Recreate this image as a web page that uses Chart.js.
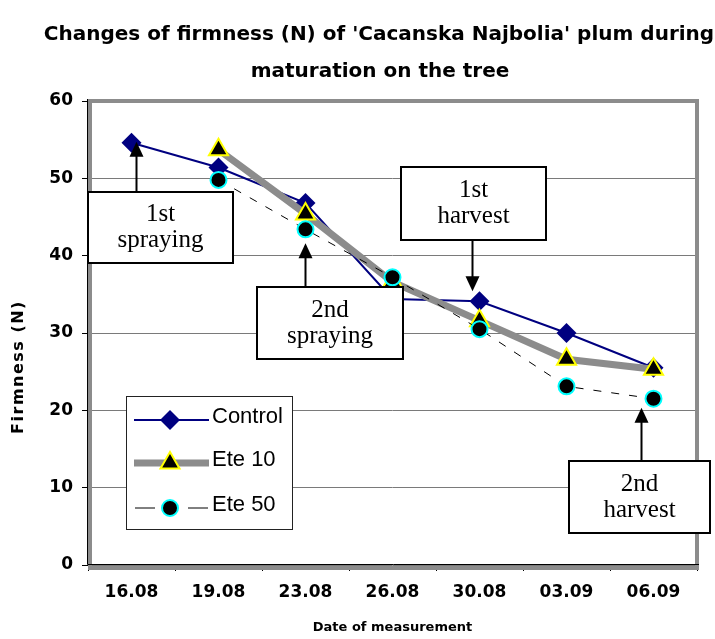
<!DOCTYPE html>
<html>
<head>
<meta charset="utf-8">
<script src="https://cdn.jsdelivr.net/npm/chart.js@4.4.1/dist/chart.umd.min.js"></script>
<style>
  html, body { margin: 0; padding: 0; background: #fff; }
  #wrap { position: relative; width: 715px; height: 639px; }
</style>
</head>
<body>
<div id="wrap"><canvas id="firmnessChart" width="715" height="639"></canvas></div>
<script>
// --- data ---
const dates = ['16.08', '19.08', '23.08', '26.08', '30.08', '03.09', '06.09'];
const control = [54.6, 51.4, 46.8, 34.4, 34.1, 30.0, 25.5];
const ete10 = [null, 53.7, 45.4, 36.6, 31.6, 26.6, 25.3];
const ete50 = [null, 49.8, 43.4, 37.2, 30.5, 23.1, 21.5];
const seriesNames = ['Control', 'Ete 10', 'Ete 50'];

const titleLines = ["Changes of firmness (N) of 'Cacanska Najbolia' plum during", 'maturation on the tree'];

// text boxes with arrows pointing at a point of a series
const notes = [
    { lines: ['1st', 'spraying'], box: [88, 192, 145, 71], series: 0, index: 0, dx: 5, gap: -1 },
    { lines: ['2nd', 'spraying'], box: [257, 287, 146, 72], series: 2, index: 2, dx: 0, gap: 14 },
    { lines: ['1st', 'harvest'], box: [401, 167, 145, 73], series: 0, index: 4, dx: -7, gap: 10 },
    { lines: ['2nd', 'harvest'], box: [569, 461, 141, 72], series: 2, index: 6, dx: -12, gap: 9 }
];

const boldFont = '"DejaVu Sans", Verdana, sans-serif';

function drawArrowHead(ctx, x, y, dir) {
    ctx.beginPath();
    ctx.moveTo(x, y);
    ctx.lineTo(x - 7, y - dir * 15);
    ctx.lineTo(x + 7, y - dir * 15);
    ctx.closePath();
    ctx.fill();
}

const decorations = {
    id: 'decorations',
    beforeDatasetsDraw(chart) {
        const { ctx, chartArea: a } = chart;
        ctx.save();
        // grey plot frame
        ctx.strokeStyle = '#8c8c8c';
        ctx.lineWidth = 4;
        ctx.strokeRect(a.left + 2, a.top, a.right - a.left - 2, a.bottom - a.top + 3);
        ctx.strokeStyle = '#000';
        ctx.lineWidth = 1;
        ctx.beginPath();
        ctx.moveTo(a.left - 0.5, a.top - 2);
        ctx.lineTo(a.left - 0.5, a.bottom - 0.5);
        ctx.lineTo(a.right + 2, a.bottom - 0.5);
        ctx.stroke();
        ctx.restore();
    },
    afterDraw(chart) {
        const { ctx, scales } = chart;
        ctx.save();

        // title
        ctx.fillStyle = '#000';
        ctx.textAlign = 'center';
        ctx.textBaseline = 'middle';
        ctx.font = 'bold 20px ' + boldFont;
        ctx.fillText(titleLines[0], 379, 35);
        ctx.fillText(titleLines[1], 380, 72);

        // y axis title
        ctx.save();
        ctx.translate(19, 367);
        ctx.rotate(-Math.PI / 2);
        ctx.font = 'bold 16px ' + boldFont;
        ctx.letterSpacing = '1.5px';
        ctx.fillText('Firmness (N)', 0, 0);
        ctx.restore();

        // annotation boxes and arrows
        notes.forEach(n => {
            const [bx, by, bw, bh] = n.box;
            const value = chart.data.datasets[n.series].data[n.index];
            const px = scales.x.getPixelForValue(n.index) + n.dx;
            const py = scales.y.getPixelForValue(value);
            const up = by > py;
            ctx.strokeStyle = '#000';
            ctx.fillStyle = '#000';
            ctx.lineWidth = 2;
            const tipY = up ? py + n.gap : py - n.gap;
            const startY = up ? by : by + bh;
            ctx.beginPath();
            ctx.moveTo(px, startY);
            ctx.lineTo(px, up ? tipY + 14 : tipY - 14);
            ctx.stroke();
            drawArrowHead(ctx, px, tipY, up ? -1 : 1);

            ctx.fillStyle = '#fff';
            ctx.fillRect(bx, by, bw, bh);
            ctx.strokeRect(bx, by, bw, bh);
            ctx.fillStyle = '#000';
            ctx.font = '25px "Liberation Serif", "Times New Roman", serif';
            ctx.textAlign = 'center';
            ctx.textBaseline = 'middle';
            ctx.fillText(n.lines[0], bx + bw / 2, by + bh / 2 - 13);
            ctx.fillText(n.lines[1], bx + bw / 2, by + bh / 2 + 13);
        });

        // legend
        const lx = 126, ly = 396, lw = 166, lh = 133;
        const rows = [420, 463, 508];
        ctx.fillStyle = '#fff';
        ctx.fillRect(lx, ly, lw, lh);
        ctx.strokeStyle = '#222';
        ctx.lineWidth = 1;
        ctx.strokeRect(lx + 0.5, ly + 0.5, lw, lh);
        chart.data.datasets.forEach((ds, i) => {
            const y = rows[i];
            ctx.strokeStyle = ds.borderColor;
            ctx.lineWidth = ds.borderWidth;
            ctx.beginPath();
            if (ds.borderDash) {
                ctx.moveTo(135, y); ctx.lineTo(155, y);
                ctx.moveTo(188, y); ctx.lineTo(208, y);
            } else {
                ctx.moveTo(134, y); ctx.lineTo(209, y);
            }
            ctx.stroke();
            ctx.fillStyle = ds.pointBackgroundColor;
            ctx.strokeStyle = ds.pointBorderColor;
            ctx.lineWidth = ds.pointBorderWidth;
            Chart.helpers.drawPoint(ctx, {
                pointStyle: ds.pointStyle, radius: ds.pointRadius,
                borderWidth: ds.pointBorderWidth, rotation: 0
            }, 170, y);
            ctx.fillStyle = '#000';
            ctx.font = '22px "Liberation Sans", Arial, sans-serif';
            ctx.textAlign = 'left';
            ctx.textBaseline = 'middle';
            ctx.fillText(ds.label, 212, y - 3);
        });
        ctx.restore();
    }
};

const tickFont = { family: boldFont, size: 17, weight: 'bold' };

new Chart(document.getElementById('firmnessChart'), {
    type: 'line',
    data: {
        labels: dates,
        datasets: [{
            label: seriesNames[0],
            data: control,
            order: 3,
            borderColor: '#000080',
            borderWidth: 2,
            pointStyle: 'rectRot',
            pointRadius: 10,
            pointBackgroundColor: '#000080',
            pointBorderColor: '#000080',
            pointBorderWidth: 0
        }, {
            label: seriesNames[1],
            data: ete10,
            order: 2,
            borderColor: '#8c8c8c',
            borderWidth: 7,
            pointStyle: 'triangle',
            pointRadius: 11,
            pointBackgroundColor: '#000',
            pointBorderColor: '#ffff00',
            pointBorderWidth: 2
        }, {
            label: seriesNames[2],
            data: ete50,
            order: 1,
            borderColor: '#000',
            borderWidth: 1,
            borderDash: [8, 10],
            pointStyle: 'circle',
            pointRadius: 8,
            pointBackgroundColor: '#000',
            pointBorderColor: '#00ffff',
            pointBorderWidth: 2
        }]
    },
    options: {
        responsive: false,
        animation: false,
        layout: { padding: { top: 101, right: 18, bottom: 0, left: 0 } },
        plugins: {
            legend: { display: false },
            tooltip: { enabled: false }
        },
        scales: {
            x: {
                offset: true,
                grid: { offset: true, drawOnChartArea: false, tickLength: 6, color: '#000', tickColor: '#000' },
                border: { display: false },
                ticks: { font: tickFont, color: '#000', padding: 11 },
                title: {
                    display: true, text: 'Date of measurement', color: '#000',
                    font: { family: boldFont, size: 13, weight: 'bold' }, padding: { top: 0, bottom: 4 }
                },
                afterFit(axis) { axis.height = 74; }
            },
            y: {
                min: 0, max: 60,
                ticks: { stepSize: 10, font: tickFont, color: '#000', padding: 9 },
                grid: { color: '#7a7a7a', tickColor: '#000', tickLength: 6 },
                border: { display: false },
                afterFit(axis) { axis.width = 88; }
            }
        }
    },
    plugins: [decorations]
});
</script>
</body>
</html>
